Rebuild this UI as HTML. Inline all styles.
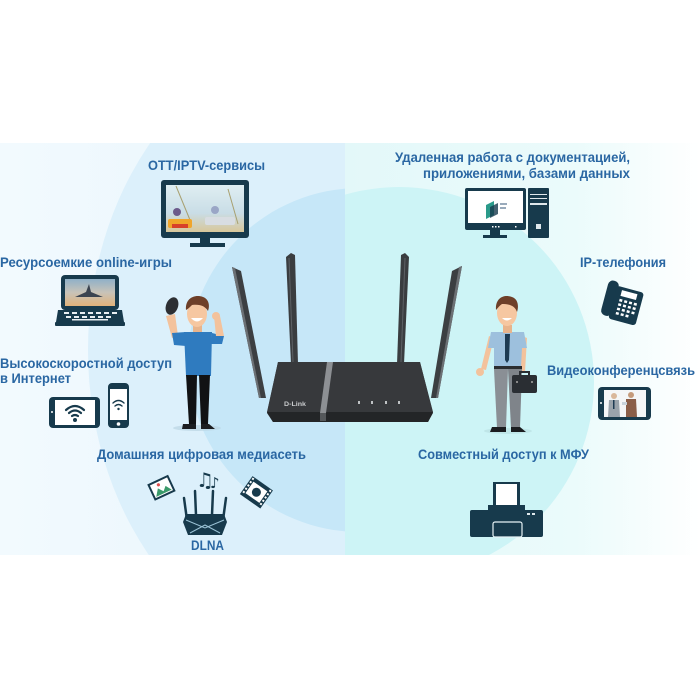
<!DOCTYPE html>
<html><head><meta charset="utf-8"><style>
html,body{margin:0;padding:0;background:#fff;}
svg{display:block;}
text{font-family:"Liberation Sans","DejaVu Sans",sans-serif;font-weight:bold;font-size:14px;fill:#2a67a3;}
</style></head><body>
<svg width="700" height="700" viewBox="0 0 700 700" xmlns="http://www.w3.org/2000/svg">
<defs>
<clipPath id="cl"><rect x="0" y="143" width="345" height="412"/></clipPath>
<clipPath id="cr"><rect x="345" y="143" width="355" height="412"/></clipPath>
<linearGradient id="rfade" x1="0" y1="0" x2="1" y2="0">
<stop offset="0" stop-color="#e3f8f9"/><stop offset="0.65" stop-color="#ebfbfb"/><stop offset="1" stop-color="#ffffff"/>
</linearGradient>
<linearGradient id="lfade" x1="0" y1="0" x2="1" y2="0">
<stop offset="0" stop-color="#f2fafe"/><stop offset="1" stop-color="#e8f5fc"/>
</linearGradient>
<linearGradient id="sky" x1="0" y1="0" x2="0" y2="1">
<stop offset="0" stop-color="#dfeef2"/><stop offset="0.6" stop-color="#c9dde6"/><stop offset="1" stop-color="#d8c79a"/>
</linearGradient>
<linearGradient id="sky2" x1="0" y1="0" x2="0" y2="1">
<stop offset="0" stop-color="#8fb0c8"/><stop offset="0.5" stop-color="#c8c3b8"/><stop offset="1" stop-color="#e0b27a"/>
</linearGradient>
</defs>

<!-- background left -->
<g clip-path="url(#cl)">
<rect x="0" y="143" width="345" height="412" fill="url(#lfade)"/>
<ellipse cx="350" cy="350" rx="262" ry="320" fill="#dcf0fb"/>
<circle cx="360" cy="360" r="172" fill="#c6e7f8"/>
</g>
<!-- background right -->
<g clip-path="url(#cr)">
<rect x="345" y="143" width="355" height="412" fill="url(#rfade)"/>
<circle cx="399" cy="382" r="195" fill="#cdf4f6"/>
</g>

<!-- ===== Router ===== -->
<polygon points="232,267 241,271 266,398 259,398" fill="#3c3f42"/>
<polygon points="232,267 235,268 261,398 259,398" fill="#6c7074"/>
<polygon points="286,257 291,253 295,255 298,364 291,364" fill="#3a3d40"/>
<line x1="289" y1="258" x2="293" y2="362" stroke="#5d6165" stroke-width="1"/>
<polygon points="401,255 405,253 409,257 404,364 397,364" fill="#3a3d40"/>
<line x1="405" y1="258" x2="401" y2="362" stroke="#5d6165" stroke-width="1"/>
<polygon points="452,271 462,266 438,398 431,398" fill="#3c3f42"/>
<polygon points="459,267 462,266 438,398 436,398" fill="#6c7074"/>
<polygon points="278,362 420,362 433,413 428,422 273,422 267,413" fill="#2a2c2f"/>
<polygon points="278,362 420,362 433,412 267,412" fill="#37393c"/>
<polygon points="267,412 433,412 428,422 273,422" fill="#232527"/>
<polygon points="327,362 333,362 326,413 320,413" fill="#8d9094"/>
<rect x="320" y="413" width="6" height="8" fill="#55585b"/>
<text x="284" y="406" style="font-size:6px;fill:#c9cbcd" textLength="22" lengthAdjust="spacingAndGlyphs">D-Link</text>
<g fill="#bfc2c4">
<rect x="358" y="401" width="2" height="3"/><rect x="371" y="401" width="2" height="3"/>
<rect x="385" y="401" width="2" height="3"/><rect x="398" y="401" width="2" height="3"/>
</g>

<!-- ===== Left person (gamer) ===== -->
<ellipse cx="197" cy="428" rx="24" ry="3" fill="#b9d4e2" opacity="0.7"/>
<polygon points="166,316 175,314 178,336 172,338" fill="#f3c29c"/>
<ellipse cx="172" cy="306" rx="6" ry="9" transform="rotate(20 172 306)" fill="#2d2f33"/>
<polygon points="212,333 224,336 222,344 211,344" fill="#2f7bbf"/>
<polygon points="216,336 224,336 220,316 214,316" fill="#f3c29c"/>
<circle cx="216" cy="316" r="4" fill="#f3c29c"/>
<rect x="193" y="325" width="9" height="9" fill="#e8b48c"/>
<polygon points="184,332 212,332 211,376 186,376" fill="#2f7bbf"/>
<polygon points="172,333 186,332 186,346 174,345" fill="#2f7bbf"/>
<polygon points="186,375 197,375 196,424 189,424" fill="#111214"/>
<polygon points="199,375 210,375 208,424 201,424" fill="#111214"/>
<polygon points="183,424 196,424 196,429 182,429" fill="#1b1d20"/>
<polygon points="201,424 209,424 215,429 201,429" fill="#1b1d20"/>
<ellipse cx="197" cy="314" rx="10" ry="13" fill="#f6c7a1"/>
<path d="M186,310 C185,298 195,294 203,297 C209,299 210,306 208,311 C205,306 200,304 192,305 C190,307 188,309 186,310 Z" fill="#6e3f28"/>
<path d="M191,318 Q197,325 203,318 Z" fill="#fff"/>

<!-- ===== Right person (businessman) ===== -->
<ellipse cx="508" cy="431" rx="24" ry="3" fill="#b9dfe2" opacity="0.7"/>
<polygon points="489,336 494,338 486,370 481,369" fill="#f3c29c"/>
<circle cx="480" cy="372" r="4" fill="#f3c29c"/>
<polygon points="522,336 527,338 525,372 520,372" fill="#f3c29c"/>
<polygon points="491,332 524,332 527,348 522,348 521,367 494,367 494,348 488,348" fill="#9dc0dd"/>
<polygon points="505,334 510,334 509,360 507,363 505,360" fill="#1d3a52"/>
<rect x="494" y="366" width="28" height="3" fill="#2b2d30"/>
<polygon points="494,369 508,369 506,428 497,428" fill="#8a8f95"/>
<polygon points="508,369 522,369 520,428 511,428" fill="#7f848a"/>
<polygon points="492,427 506,427 506,432 490,432" fill="#1b1d20"/>
<polygon points="511,427 520,427 526,432 511,432" fill="#1b1d20"/>
<rect x="512" y="375" width="25" height="18" rx="2" fill="#2a2e33"/>
<path d="M520,375 v-3 h9 v3" stroke="#2a2e33" stroke-width="2" fill="none"/>
<rect x="516" y="381" width="2" height="2" fill="#888"/><rect x="531" y="381" width="2" height="2" fill="#888"/>
<rect x="503" y="325" width="9" height="8" fill="#e8b48c"/>
<ellipse cx="507" cy="313" rx="10" ry="13" fill="#f6c7a1"/>
<path d="M496,310 C495,298 504,294 512,297 C518,299 519,306 517,312 C515,306 510,304 502,304 C499,306 498,308 496,310 Z" fill="#6e3f28"/>
<path d="M502,318 Q507,323 512,318 Z" fill="#fff"/>

<!-- ===== Left icons ===== -->
<rect x="161" y="180" width="88" height="58" rx="3" fill="#173a4c"/>
<rect x="166" y="185" width="78" height="47" fill="url(#sky)"/>
<line x1="176" y1="186" x2="190" y2="220" stroke="#a8a070" stroke-width="1"/>
<line x1="228" y1="189" x2="238" y2="224" stroke="#a8a070" stroke-width="1"/>
<rect x="168" y="219" width="24" height="9" rx="2" fill="#f0a52a"/>
<rect x="172" y="224" width="16" height="4" fill="#d8402a"/>
<circle cx="177" cy="212" r="4" fill="#6b5a8a"/>
<rect x="205" y="217" width="30" height="8" rx="2" fill="#d8dde2"/>
<circle cx="215" cy="210" r="4" fill="#9aa6c6"/>
<rect x="200" y="238" width="10" height="5" fill="#173a4c"/>
<rect x="190" y="243" width="35" height="4" fill="#173a4c"/>
<rect x="61" y="275" width="58" height="35" rx="4" fill="#173a4c"/>
<rect x="65" y="279" width="50" height="27" fill="url(#sky2)"/>
<path d="M75,297 L86,292 L89,284 L91,292 L103,297 Z" fill="#3b4450"/>
<polygon points="58,310 122,310 124,322 56,322" fill="#173a4c"/>
<g fill="#e8eef2">
<rect x="64" y="312" width="5" height="2"/><rect x="72" y="312" width="5" height="2"/><rect x="80" y="312" width="5" height="2"/><rect x="88" y="312" width="5" height="2"/><rect x="96" y="312" width="5" height="2"/><rect x="104" y="312" width="5" height="2"/><rect x="112" y="312" width="5" height="2"/>
<rect x="66" y="316" width="5" height="2"/><rect x="74" y="316" width="5" height="2"/><rect x="82" y="316" width="5" height="2"/><rect x="90" y="316" width="5" height="2"/><rect x="98" y="316" width="5" height="2"/><rect x="106" y="316" width="5" height="2"/>
<rect x="72" y="319" width="36" height="1.5"/>
</g>
<rect x="55" y="322" width="70" height="4" rx="1" fill="#173a4c"/>
<rect x="49" y="397" width="51" height="31" rx="4" fill="#173a4c"/>
<rect x="55" y="400" width="40" height="25" fill="#fff"/>
<g fill="none" stroke="#173a4c" stroke-width="2.2" stroke-linecap="round">
<path d="M66,410 Q75,402 84,410"/><path d="M69,413 Q75,408 81,413"/><path d="M72,416 Q75,414 78,416"/>
</g>
<circle cx="75" cy="420" r="2" fill="#173a4c"/>
<circle cx="52" cy="412" r="1" fill="#fff"/>
<rect x="108" y="383" width="21" height="45" rx="4" fill="#173a4c"/>
<rect x="110" y="389" width="17" height="31" fill="#fff"/>
<g fill="none" stroke="#173a4c" stroke-width="1.4" stroke-linecap="round">
<path d="M113,403 Q118.5,398 124,403"/><path d="M115,406 Q118.5,403 122,406"/>
</g>
<circle cx="118.5" cy="409" r="1.2" fill="#173a4c"/>
<circle cx="118.5" cy="424" r="1.8" fill="#fff"/>
<g transform="rotate(-25 161 488)">
<rect x="150" y="479" width="23" height="18" fill="#173a4c"/>
<rect x="152" y="481" width="19" height="14" fill="#fff"/>
<path d="M153,494 L158,487 L162,492 L166,488 L170,494 Z" fill="#3a9a6a"/>
<circle cx="160" cy="484" r="1.6" fill="#e05050"/>
</g>
<text x="196" y="487" style="font-family:'DejaVu Sans',sans-serif;font-size:20px;font-weight:normal;fill:#173a4c">♫</text>
<text x="210" y="488" style="font-family:'DejaVu Sans',sans-serif;font-size:15px;font-weight:normal;fill:#173a4c">♪</text>
<g transform="rotate(35 256 492)">
<rect x="244" y="481" width="25" height="22" fill="#173a4c"/>
<rect x="248" y="485" width="17" height="14" fill="#fff"/>
<circle cx="256.5" cy="492" r="4.5" fill="#173a4c"/>
<g fill="#fff"><rect x="245" y="482" width="2" height="2"/><rect x="245" y="486" width="2" height="2"/><rect x="245" y="490" width="2" height="2"/><rect x="245" y="494" width="2" height="2"/><rect x="245" y="498" width="2" height="2"/>
<rect x="266" y="482" width="2" height="2"/><rect x="266" y="486" width="2" height="2"/><rect x="266" y="490" width="2" height="2"/><rect x="266" y="494" width="2" height="2"/><rect x="266" y="498" width="2" height="2"/></g>
</g>
<g stroke="#173a4c" stroke-width="2.5" stroke-linecap="round">
<line x1="184" y1="498" x2="187" y2="520"/><line x1="195" y1="491" x2="196" y2="515"/>
<line x1="213" y1="491" x2="212" y2="515"/><line x1="226" y1="498" x2="223" y2="520"/>
</g>
<polygon points="186,514 224,514 227,522 222,535 188,535 183,522" fill="#173a4c"/>
<path d="M186,520 L205,528 L224,520 M190,533 L205,525 L220,533" stroke="#9bc3d6" stroke-width="1" fill="none"/>

<!-- ===== Right icons ===== -->
<rect x="465" y="188" width="61" height="42" rx="2" fill="#173a4c"/>
<rect x="468" y="191" width="55" height="32" fill="#fff"/>
<polygon points="486,205 494,201 494,215 486,219" fill="#2a9a8a"/>
<polygon points="490,207 498,203 498,214 490,218" fill="#173a4c" opacity="0.8"/>
<rect x="500" y="203" width="7" height="2" fill="#9ab"/><rect x="500" y="207" width="6" height="2" fill="#9ab"/>
<g fill="#fff"><rect x="492" y="226" width="1.5" height="1.5"/><rect x="495" y="226" width="1.5" height="1.5"/><rect x="498" y="226" width="1.5" height="1.5"/><rect x="515" y="226" width="1.5" height="1.5"/></g>
<rect x="490" y="230" width="10" height="5" fill="#173a4c"/>
<rect x="483" y="235" width="24" height="3" fill="#173a4c"/>
<rect x="528" y="188" width="21" height="50" rx="1" fill="#173a4c"/>
<g fill="#dfe8ec"><rect x="530" y="194" width="17" height="1"/><rect x="530" y="198" width="17" height="1"/><rect x="530" y="203" width="17" height="2"/><rect x="536" y="224" width="5" height="5"/></g>
<g transform="rotate(15 624 302)">
<rect x="604" y="284" width="11" height="36" rx="5" fill="#173a4c"/>
<rect x="613" y="288" width="28" height="34" rx="3" fill="#173a4c"/>
<rect x="619" y="291" width="16" height="6" fill="#fff"/>
<g fill="#fff">
<rect x="619" y="300" width="3" height="2.5"/><rect x="624" y="300" width="3" height="2.5"/><rect x="629" y="300" width="3" height="2.5"/><rect x="634" y="300" width="3" height="2.5"/>
<rect x="619" y="304.5" width="3" height="2.5"/><rect x="624" y="304.5" width="3" height="2.5"/><rect x="629" y="304.5" width="3" height="2.5"/><rect x="634" y="304.5" width="3" height="2.5"/>
<rect x="619" y="309" width="3" height="2.5"/><rect x="624" y="309" width="3" height="2.5"/><rect x="629" y="309" width="3" height="2.5"/><rect x="634" y="309" width="3" height="2.5"/>
<rect x="619" y="313.5" width="3" height="2.5"/><rect x="624" y="313.5" width="3" height="2.5"/><rect x="629" y="313.5" width="3" height="2.5"/>
</g>
</g>
<rect x="598" y="387" width="53" height="33" rx="4" fill="#173a4c"/>
<rect x="604" y="390" width="42" height="27" fill="#f4f6f7"/>
<circle cx="614" cy="396" r="3" fill="#d9b79a"/>
<polygon points="609,400 619,400 620,417 608,417" fill="#9aa3ab"/>
<rect x="613" y="400" width="1.5" height="9" fill="#1d3a52"/>
<circle cx="631" cy="395" r="3" fill="#c59a7a"/>
<polygon points="626,399 636,399 637,417 626,417" fill="#8a5e48"/>
<rect x="622" y="402" width="5" height="3" fill="#c9d4dc"/>
<circle cx="601" cy="403" r="1" fill="#fff"/>
<rect x="493" y="482" width="27" height="25" fill="#173a4c"/>
<rect x="496" y="484" width="21" height="23" fill="#fff"/>
<rect x="488" y="505" width="37" height="5" fill="#173a4c"/>
<rect x="470" y="510" width="73" height="27" rx="2" fill="#173a4c"/>
<rect x="493" y="522" width="29" height="15" rx="2" fill="#173a4c" stroke="#e6f2f5" stroke-width="1.2"/>
<rect x="527" y="513" width="3" height="2" fill="#dfe8ec"/><rect x="532" y="513" width="3" height="2" fill="#dfe8ec"/>

<!-- ===== Labels ===== -->
<text x="148" y="170" textLength="117" lengthAdjust="spacingAndGlyphs">OTT/IPTV-сервисы</text>
<text x="0" y="267" textLength="172" lengthAdjust="spacingAndGlyphs">Ресурсоемкие online-игры</text>
<text x="0" y="368" textLength="172" lengthAdjust="spacingAndGlyphs">Высокоскоростной доступ</text>
<text x="0" y="383" textLength="71" lengthAdjust="spacingAndGlyphs">в Интернет</text>
<text x="97" y="459" textLength="209" lengthAdjust="spacingAndGlyphs">Домашняя цифровая медиасеть</text>
<text x="191" y="550" textLength="33" lengthAdjust="spacingAndGlyphs">DLNA</text>
<text x="395" y="162" textLength="235" lengthAdjust="spacingAndGlyphs">Удаленная работа с документацией,</text>
<text x="423" y="178" textLength="207" lengthAdjust="spacingAndGlyphs">приложениями, базами данных</text>
<text x="580" y="267" textLength="86" lengthAdjust="spacingAndGlyphs">IP-телефония</text>
<text x="547" y="375" textLength="148" lengthAdjust="spacingAndGlyphs">Видеоконференцсвязь</text>
<text x="418" y="459" textLength="171" lengthAdjust="spacingAndGlyphs">Совместный доступ к МФУ</text>
</svg>
</body></html>
